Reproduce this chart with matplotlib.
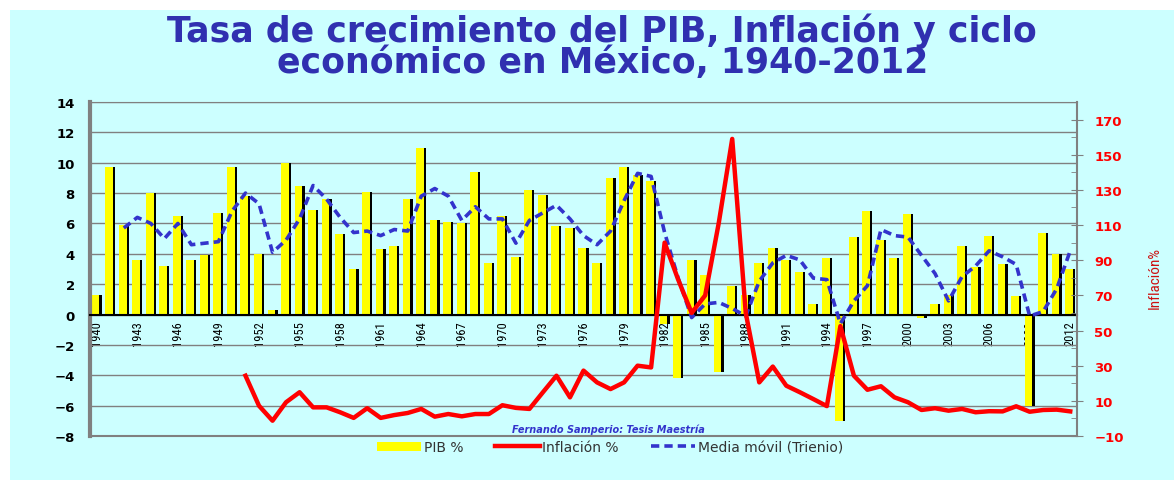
import numpy as np
import matplotlib.pyplot as plt
from matplotlib import font_manager
from matplotlib.patches import Patch, Rectangle
from matplotlib.lines import Line2D

# datos
years = list(range(1940, 2013))
pib = [1.3, 9.7, 5.9, 3.6, 8.0, 3.2, 6.5, 3.6, 3.9, 6.7,
       9.7, 7.8, 4.0, 0.3, 10.0, 8.5, 6.9, 7.6, 5.3, 3.0,
       8.1, 4.3, 4.5, 7.6, 11.0, 6.2, 6.1, 6.0, 9.4, 3.4,
       6.5, 3.8, 8.2, 7.9, 5.8, 5.7, 4.4, 3.4, 9.0, 9.7,
       9.2, 8.8, -0.6, -4.2, 3.6, 2.6, -3.8, 1.9, 1.3, 3.4,
       4.4, 3.6, 2.8, 0.7, 3.7, -7.0, 5.1, 6.8, 4.9, 3.7,
       6.6, -0.2, 0.7, 1.3, 4.5, 3.1, 5.2, 3.3, 1.2, -6.0,
       5.4, 4.0, 3.0]

# media movil (trienio), desde 1942
mm_years = list(range(1942, 2013))
media_movil = [5.7, 6.4, 6.0, 5.0, 6.0, 4.6, 4.7, 4.8,
               6.8, 8.0, 7.3, 4.1, 4.9, 6.3, 8.5, 7.6, 6.4, 5.4,
               5.5, 5.2, 5.6, 5.5, 7.8, 8.3, 7.8, 6.2, 7.1, 6.3,
               6.3, 4.7, 6.2, 6.7, 7.2, 6.3, 5.2, 4.6, 5.5, 7.5,
               9.3, 9.1, 5.4, 2.4, -0.2, 0.7, 0.8, 0.4, -0.1, 2.2,
               3.4, 3.9, 3.6, 2.4, 2.3, -0.6, 0.9, 1.9, 5.6, 5.2,
               5.1, 3.9, 2.7, 0.9, 2.5, 3.2, 4.2, 3.8, 3.3, -0.1,
               0.2, 1.7, 4.2]

# inflacion (eje derecho), desde 1951
inf_years = list(range(1951, 2013))
inflacion = [24.3, 7.2, -1.3, 9.2, 14.9, 6.3, 6.3, 3.5, 0.3,
             5.8, 0.3, 1.9, 3.1, 5.4, 1.0, 2.5, 1.2, 2.5, 2.5,
             7.5, 6.0, 5.4, 14.9, 24.3, 12.0, 27.2, 20.5, 16.7, 20.5,
             30.0, 29.0, 100.0, 79.0, 60.0, 70.0, 111.0, 159.0, 60.0, 20.5,
             29.5, 18.6, 14.9, 11.0, 7.0, 52.5, 24.3, 16.3, 18.3, 12.0,
             9.2, 4.8, 5.8, 4.4, 5.4, 3.5, 4.1, 4.0, 6.9, 3.8,
             4.8, 5.0, 4.0]

# fuente estrecha si existe
fonts = font_manager.fontManager.ttflist
names = {f.name for f in fonts}
narrow_kw = {'family': 'DejaVu Sans'}
for n in ['Liberation Sans Narrow', 'Roboto Condensed', 'Open Sans Condensed']:
    if n in names:
        narrow_kw = {'family': n}
        break
else:
    if any(f.name == 'DejaVu Sans' and f.stretch == 'condensed' for f in fonts):
        narrow_kw = {'family': 'DejaVu Sans', 'fontstretch': 'condensed'}

cyan = '#CCFFFF'
grey = '#808080'

fig = plt.figure(figsize=(11.74, 4.81), dpi=100, facecolor='white')
fig.patches.append(Rectangle((10 / 1174, 0), 1, 1 - 11 / 481, transform=fig.transFigure,
                             facecolor=cyan, edgecolor='none', zorder=-10))

ax = fig.add_axes([90 / 1174, 1 - 437 / 481, 987 / 1174, 334 / 481])
ax.set_facecolor(cyan)

x = np.arange(len(years))
mm_x = np.array([years.index(y) for y in mm_years])
inf_x = np.array([years.index(y) for y in inf_years])

# barras con sombra negra
ax.bar(x - 0.30, pib, width=0.67, align='edge', color='black', zorder=2)
ax.bar(x - 0.37, pib, width=0.57, align='edge', color='#FFFF00', zorder=2.2)

ax.plot(mm_x, media_movil, color='#3333CC', lw=2.6, linestyle=(0, (2.3, 1.4)), zorder=4)

ax.set_xlim(-0.5, len(years) - 0.5)
ax.set_ylim(-8, 14)
ax.set_yticks(range(-8, 15, 2))
ax.set_axisbelow(True)
ax.yaxis.grid(True, color=grey, lw=1)
ax.axhline(-8, color=grey, lw=1.5, clip_on=False, zorder=1)

ax.spines['bottom'].set_position(('data', 0))
ax.spines['bottom'].set_color('black')
ax.spines['bottom'].set_linewidth(1.5)
ax.spines['bottom'].set_zorder(2.5)
ax.spines['left'].set_color(grey)
ax.spines['left'].set_linewidth(3)
ax.spines['top'].set_color(grey)
ax.spines['right'].set_visible(False)

ax.set_xticks(x[::3])
ax.set_xticklabels([str(y) for y in years[::3]], rotation=90, fontsize=9,
                   va='top', **narrow_kw)
ax.tick_params(axis='x', length=0, pad=4)
ax.tick_params(axis='y', length=0, pad=11)
for lab in ax.get_yticklabels():
    lab.set_fontweight('bold')
    lab.set_fontsize(9.5)

ax2 = ax.twinx()
ax2.plot(inf_x, inflacion, color='#FF0000', lw=3.2, solid_joinstyle='round', zorder=5)
ax2.set_ylim(-10, 180)
ax2.set_yticks(range(-10, 171, 20))
ax2.set_yticks(range(0, 181, 20), minor=True)
for s in ['left', 'top', 'bottom']:
    ax2.spines[s].set_visible(False)
ax2.spines['right'].set_color(grey)
ax2.spines['right'].set_linewidth(1.5)
ax2.tick_params(axis='y', which='major', direction='inout', length=9, color=grey,
                pad=8, labelcolor='#FF0000', labelsize=9.5)
ax2.tick_params(axis='y', which='minor', direction='in', length=4, color=grey)
for lab in ax2.get_yticklabels():
    lab.set_fontweight('bold')
ax2.set_ylabel('Inflación%', color='#CC1111', fontsize=11, **narrow_kw)
ax2.yaxis.set_label_coords(1.072, 0.476)

fig.text(0.513, 1 - 31 / 481, 'Tasa de crecimiento del PIB, Inflación y ciclo',
         ha='center', va='center', fontsize=25, fontweight='bold', color='#3030B0')
fig.text(0.513, 1 - 63 / 481, 'económico en México, 1940-2012',
         ha='center', va='center', fontsize=25, fontweight='bold', color='#3030B0')

fig.text(608 / 1174, 1 - 430 / 481, 'Fernando Samperio: Tesis Maestría', ha='center',
         va='center', fontsize=7, fontweight='bold', style='italic', color='#3333CC')

handles = [Patch(facecolor='#FFFF00', edgecolor='none'),
           Line2D([], [], color='#FF0000', lw=3.2),
           Line2D([], [], color='#3333CC', lw=2.6, linestyle=(0, (2.3, 1.4)))]
labels = ['PIB %', 'Inflación %', 'Media móvil (Trienio)']
leg = fig.legend(handles, labels, loc='center', bbox_to_anchor=(610 / 1174, 1 - 448 / 481),
                 ncol=3, frameon=False, fontsize=10, handlelength=3.2, handleheight=0.6,
                 handletextpad=0.2, columnspacing=2.3)
for t in leg.get_texts():
    t.set_color('#333333')

fig.savefig('out.png', dpi=100, facecolor=fig.get_facecolor())
